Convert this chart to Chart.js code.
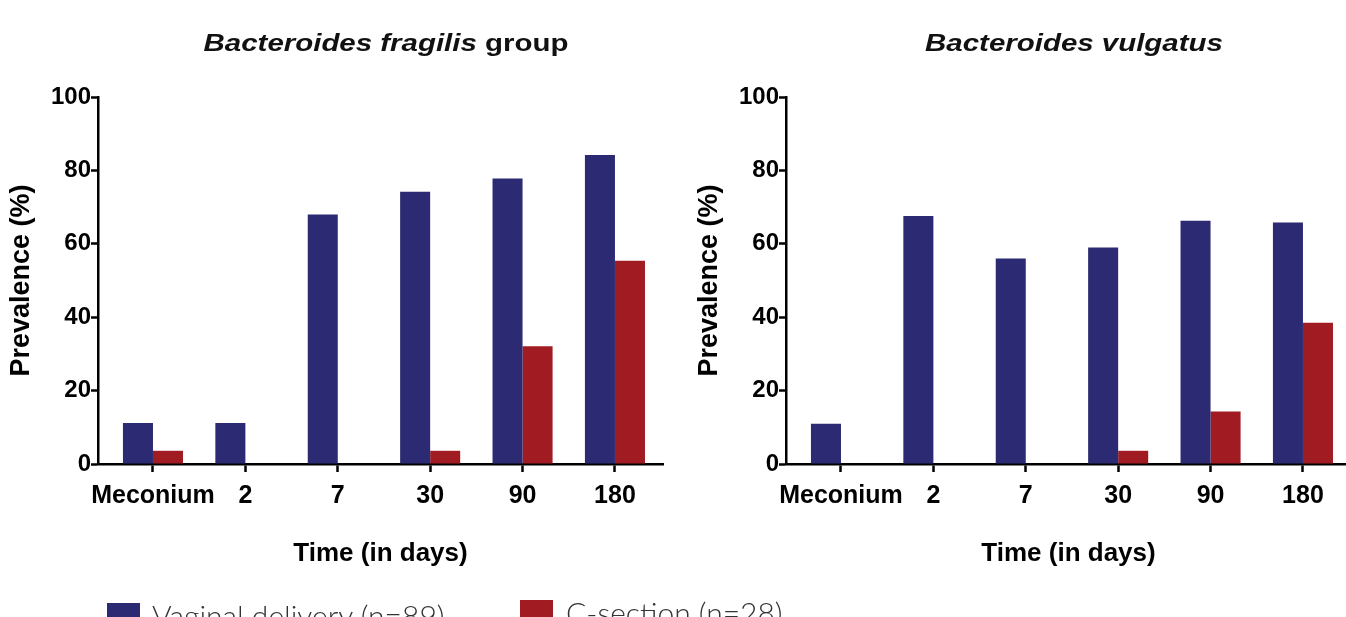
<!DOCTYPE html>
<html>
<head>
<meta charset="utf-8">
<script src="https://cdn.jsdelivr.net/npm/chart.js@4/dist/chart.umd.min.js"></script>
<style>
  html, body { margin:0; padding:0; background:#fff; }
  body { width:1346px; height:617px; overflow:hidden; position:relative; font-family:"Liberation Sans", Arial, sans-serif; }
  .wrap { position:absolute; top:0; }
  .title { position:absolute; top:30px; font-weight:bold; font-size:23px; color:#111; white-space:nowrap; transform:scaleX(1.28); transform-origin:center; text-align:center; }
  .sq { position:absolute; width:33px; height:33px; }
  .lt { position:absolute; font-family:Lato, "Noto Sans", sans-serif; font-weight:300; font-size:30px; line-height:30px; color:#333; white-space:nowrap; }
</style>
</head>
<body>
<div class="wrap" style="left:0;width:680px;height:617px"><canvas id="c1" width="680" height="617"></canvas></div>
<div class="wrap" style="left:688px;width:680px;height:617px"><canvas id="c2" width="680" height="617"></canvas></div>

<div class="title" style="left:236px;width:300px"><i>Bacteroides fragilis</i> group</div>
<div class="title" style="left:954px;width:240px"><i>Bacteroides vulgatus</i></div>

<div class="sq" style="left:107px;top:603px;background:#2b2a72"></div>
<div class="lt" style="left:152px;top:600px">Vaginal delivery (n=89)</div>
<div class="sq" style="left:520px;top:600px;background:#a11c22"></div>
<div class="lt" style="left:566px;top:597px">C-section (n=28)</div>

<script>
// ---- data ----
const categories = ["Meconium", "2", "7", "30", "90", "180"];
const fragilisVaginal = [11.2, 11.2, 68.0, 74.2, 77.8, 84.2];
const fragilisCSection = [3.6, 0, 0, 3.6, 32.1, 55.4];
const vulgatusVaginal = [11.0, 67.6, 56.0, 59.0, 66.3, 65.8];
const vulgatusCSection = [0, 0, 0, 3.6, 14.3, 38.5];
const yTicks = [0, 20, 40, 60, 80, 100];
const seriesNames = ["Vaginal delivery (n=89)", "C-section (n=28)"];
const xAxisTitle = "Time (in days)";
const yAxisTitle = "Prevalence (%)";

const BLUE = "#2b2a72";
const RED = "#a11c22";
const FONT = '"Liberation Sans", Arial, sans-serif';

function toPoints(vals) { return vals.map((v, i) => ({ x: i, y: v })); }

function makeChart(id, blueVals, redVals) {
  return new Chart(document.getElementById(id), {
    type: "bar",
    data: {
      datasets: [
        { label: seriesNames[0], data: toPoints(blueVals), backgroundColor: BLUE, borderWidth: 0,
          categoryPercentage: 0.65, barPercentage: 1.0 },
        { label: seriesNames[1], data: toPoints(redVals), backgroundColor: RED, borderWidth: 0,
          categoryPercentage: 0.65, barPercentage: 1.0 }
      ]
    },
    options: {
      responsive: false,
      animation: false,
      layout: { padding: { top: 97, bottom: 43, left: 0, right: 17 } },
      plugins: { legend: { display: false }, tooltip: { enabled: false }, title: { display: false } },
      scales: {
        x: {
          type: "linear",
          min: -0.595,
          max: 5.52,
          offset: false,
          grid: { display: true, offset: false, drawOnChartArea: false, drawTicks: true, tickLength: 8, tickWidth: 2.5, tickColor: "#000", color: "#000" },
          border: { display: true, color: "#000", width: 2.5 },
          ticks: {
            stepSize: 1,
            includeBounds: false,
            autoSkip: false,
            maxRotation: 0,
            padding: 9,
            color: "#000",
            font: { family: FONT, size: 25, weight: "bold" },
            callback: (v) => (Number.isInteger(v) && categories[v] !== undefined) ? categories[v] : ""
          },
          title: { display: true, text: xAxisTitle, color: "#000", font: { family: FONT, size: 26, weight: "bold" }, padding: { top: 0, bottom: 5 } },
          afterFit: (s) => { s.height = 110; }
        },
        y: {
          min: 0,
          max: 100,
          afterBuildTicks: (s) => { s.ticks = yTicks.map(v => ({ value: v })); },
          grid: { display: true, drawOnChartArea: false, drawTicks: true, tickLength: 7, tickWidth: 2.5, tickColor: "#000", color: "#000" },
          border: { display: true, color: "#000", width: 2.5 },
          ticks: { padding: 0, color: "#000", font: { family: FONT, size: 24, weight: "bold" } },
          title: { display: true, text: yAxisTitle, color: "#000", font: { family: FONT, size: 27, weight: "bold" }, padding: { top: 5, bottom: 0 } },
          afterFit: (s) => { s.width = 98; }
        }
      }
    }
  });
}

makeChart("c1", fragilisVaginal, fragilisCSection);
makeChart("c2", vulgatusVaginal, vulgatusCSection);
</script>
</body>
</html>
